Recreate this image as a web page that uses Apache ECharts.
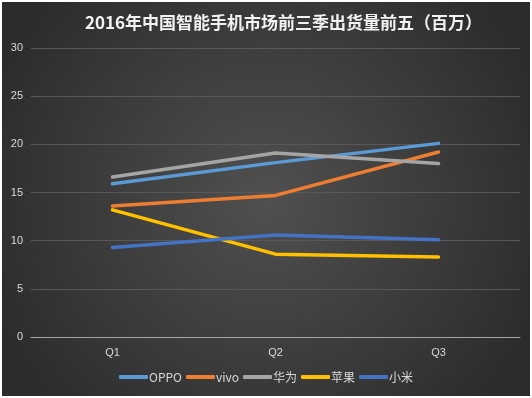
<!DOCTYPE html>
<html>
<head>
<meta charset="utf-8">
<script src="https://cdn.jsdelivr.net/npm/echarts@6/dist/echarts.min.js"></script>
<style>
  html, body { margin: 0; padding: 0; background: #fff; }
  #main { width: 528px; height: 394px; margin: 2px; }
</style>
</head>
<body>
<div id="main"></div>
<script>
  // 季度
  const quarters = ['Q1', 'Q2', 'Q3']
  // 出货量（百万）
  const oppo = [15.9, 18.1, 20.1]
  const vivo = [13.6, 14.7, 19.2]
  const huawei = [16.6, 19.1, 18.0]
  const apple = [13.2, 8.6, 8.3]
  const xiaomi = [9.3, 10.6, 10.1]

  const names = ['OPPO', 'vivo', '华为', '苹果', '小米']
  const colors = ['#5B9BD5', '#ED7D31', '#A5A5A5', '#FFC000', '#4472C4']
  const values = [oppo, vivo, huawei, apple, xiaomi]

  let mycharts = echarts.init(document.getElementById('main'))

  let option = {
    backgroundColor: {
      type: 'radial', x: 0.5, y: 0.5, r: 0.75,
      colorStops: [
        { offset: 0, color: '#505050' },
        { offset: 1, color: '#2c2c2c' }
      ]
    },
    color: colors,
    title: {
      text: '2016年中国智能手机市场前三季出货量前五（百万）',
      left: 78,
      top: 7,
      textStyle: {
        color: '#f2f2f2',
        fontSize: 17,
        fontWeight: 'bold',
        fontFamily: '"Noto Sans CJK SC", sans-serif'
      }
    },
    legend: {
      bottom: 8,
      left: 'center',
      itemWidth: 29,
      itemHeight: 4,
      itemGap: 4,
      icon: 'roundRect',
      textStyle: {
        color: '#d9d9d9',
        fontSize: 12,
        padding: [0, 0, 0, -4],
        fontFamily: '"Noto Sans CJK SC", sans-serif'
      },
      data: names
    },
    grid: {
      left: 29,
      right: 10,
      top: 46,
      bottom: 59
    },
    xAxis: {
      type: 'category',
      data: quarters,
      boundaryGap: true,
      axisLine: { lineStyle: { color: '#a6a6a6', width: 1 } },
      axisTick: { show: false },
      axisLabel: { color: '#d9d9d9', fontSize: 11, margin: 10 }
    },
    yAxis: {
      type: 'value',
      min: 0,
      max: 30,
      interval: 5,
      axisLine: { show: false },
      axisTick: { show: false },
      splitLine: { lineStyle: { color: '#585858', width: 1 } },
      axisLabel: { color: '#d9d9d9', fontSize: 11, margin: 8 }
    },
    series: names.map((n, i) => ({
      name: n,
      type: 'line',
      data: values[i],
      symbol: 'none',
      lineStyle: { width: 3.5, cap: 'round' },
      animation: false
    }))
  }
  mycharts.setOption(option)
</script>
</body>
</html>
